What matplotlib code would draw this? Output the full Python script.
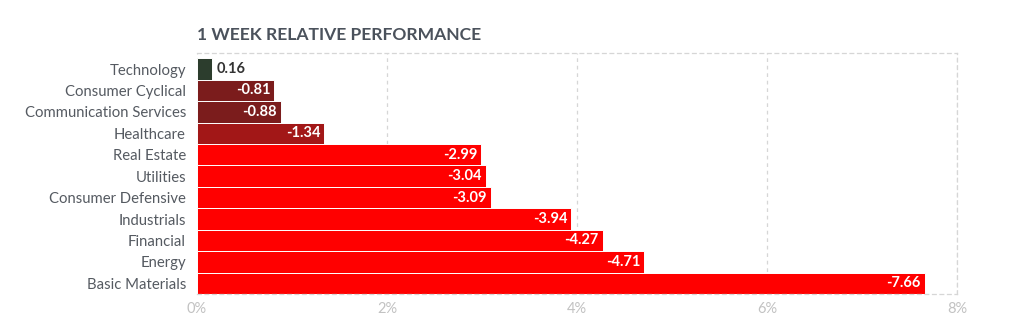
import matplotlib
matplotlib.use("Agg")
import matplotlib.pyplot as plt
from matplotlib.ticker import FuncFormatter

# sector performance over one week, in percent
sectors = ["Technology", "Consumer Cyclical", "Communication Services", "Healthcare",
           "Real Estate", "Utilities", "Consumer Defensive", "Industrials",
           "Financial", "Energy", "Basic Materials"]
changes = [0.16, -0.81, -0.88, -1.34, -2.99, -3.04, -3.09, -3.94, -4.27, -4.71, -7.66]
bar_colors = ["#2c3d2d", "#7b1c1c", "#7b1c1c", "#a21717", "#ff0000", "#ff0000",
              "#ff0000", "#ff0000", "#ff0000", "#ff0000", "#ff0000"]
xticks = [0, 2, 4, 6, 8]

plt.rcParams["font.family"] = ["Lato", "DejaVu Sans"]

fig = plt.figure(figsize=(10.2, 3.28), dpi=100)
ax = fig.add_axes([197 / 1020, 34 / 328, 760 / 1020, 241 / 328])

ypos = list(range(len(sectors)))
widths = [abs(v) for v in changes]
ax.barh(ypos, widths, height=1.0, color=bar_colors, edgecolor="white", linewidth=0.7, zorder=2)

for y, v, w in zip(ypos, changes, widths):
    if v >= 0:
        ax.text(w + 0.05, y, "%.2f" % v, ha="left", va="center", fontsize=10.5,
                fontweight="bold", color="#333333", zorder=3)
    else:
        ax.text(w - 0.04, y, "%.2f" % v, ha="right", va="center", fontsize=10.5,
                fontweight="bold", color="white", zorder=3)

ax.set_xlim(0, 8)
ax.set_ylim(10.5, -0.75)
ax.set_yticks(ypos)
ax.set_yticklabels(sectors)
ax.set_xticks(xticks)
ax.xaxis.set_major_formatter(FuncFormatter(lambda x, pos: "%d%%" % x))

ax.tick_params(axis="y", length=0, pad=8, labelsize=10.7, labelcolor="#555a61")
ax.tick_params(axis="x", length=0, pad=6, labelsize=10.5, labelcolor="#c2c2c2")

ax.grid(axis="x", color="#d6d6d6", linestyle=(0, (3, 3)), linewidth=0.9, zorder=0)
for side in ["top", "right", "bottom"]:
    ax.spines[side].set_color("#d6d6d6")
    ax.spines[side].set_linestyle((0, (3, 3)))
    ax.spines[side].set_linewidth(0.9)
ax.spines["left"].set_visible(False)

fig.text(197 / 1020, 1 - 35 / 328, "1 WEEK RELATIVE PERFORMANCE", ha="left", va="center",
         fontsize=12.6, fontweight="bold", color="#4b525c")

fig.savefig("out.png", dpi=100)
